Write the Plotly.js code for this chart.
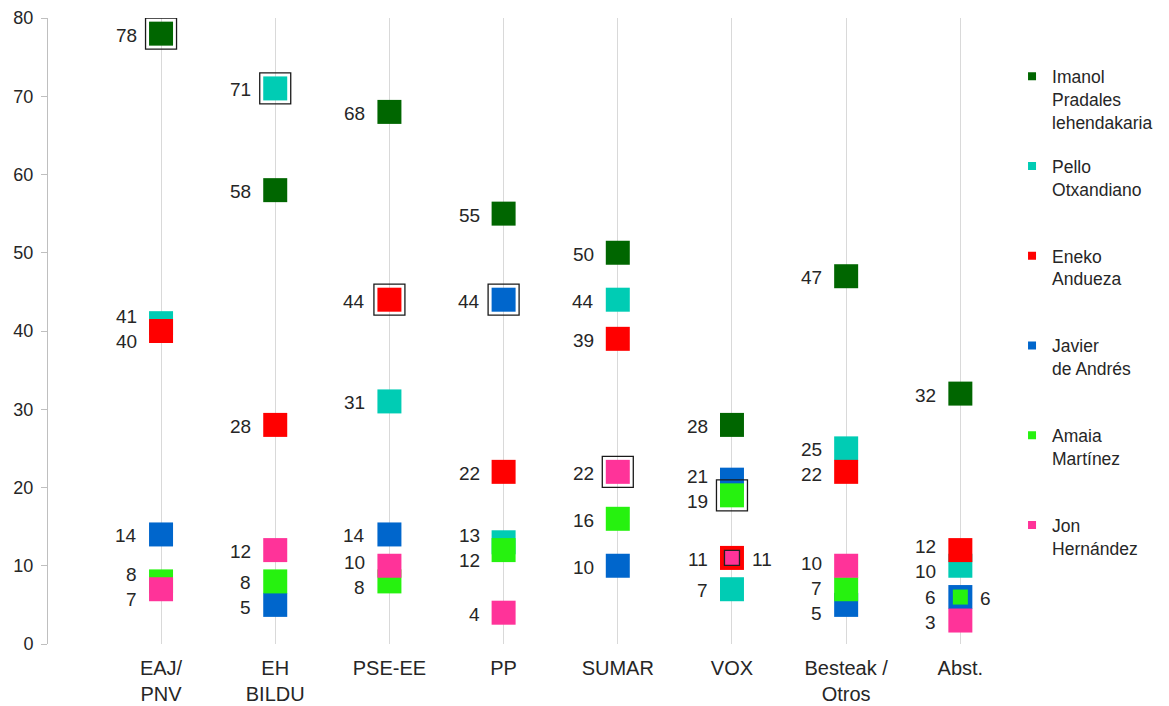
<!DOCTYPE html>
<html><head><meta charset="utf-8">
<script src="https://cdn.plot.ly/plotly-3.0.1.min.js"></script>
<style>html,body{margin:0;padding:0;background:#fff}#chart{width:1169px;height:706px}</style>
</head><body><div id="chart"></div>
<script>
// ---- data ----
const categories = ['EAJ/<br>PNV','EH<br>BILDU','PSE-EE','PP','SUMAR','VOX','Besteak /<br>Otros','Abst.'];
const seriesNames = ['Imanol<br>Pradales<br>lehendakaria','Pello<br>Otxandiano','Eneko<br>Andueza','Javier<br>de Andrés','Amaia<br>Martínez','Jon<br>Hernández'];
const imanol = [78,58,68,55,50,28,47,32];
const pello  = [41,71,31,13,44,7,25,10];
const eneko  = [40,28,44,22,39,11,22,12];
const javier = [14,5,14,44,10,21,5,6];
const amaia  = [8,8,8,12,16,19,7,6];
const jon    = [7,12,10,4,22,11,10,3];
// index of each party's own candidate in the series list (null = none)
const ownCandidate = [0,1,2,3,5,4,null,null];

// ---- styles ----
const seriesValues = [imanol,pello,eneko,javier,amaia,jon];
const colors = ['#006600','#00CCB4','#FF0000','#0066CC','#26F20F','#FF3399'];
const W=1169, H=706;
const M = {l:48, r:138, t:18, b:62};
const plotH = H - M.t - M.b;
const pxPerUnit = plotH/80;
const txtColor = '#262626';
const FONT = "'Liberation Sans', Arial, sans-serif";

const traces = [];
const annotations = [];

// markers
seriesValues.forEach((vals, s) => {
  const sizes = [], lw = [], lc = [];
  vals.forEach((v, c) => {
    let inner = false;
    for (let t = 0; t < s; t++) if (seriesValues[t][c] === v) inner = true;
    sizes.push(inner ? 15 : 24);
    lw.push(inner && s === 5 ? 1.3 : 0);
    lc.push(inner && s === 5 ? '#222' : colors[s]);
  });
  traces.push({
    type:'scatter', mode:'markers', x:categories, y:vals, showlegend:false, hoverinfo:'skip',
    marker:{symbol:'square', size:sizes, opacity:1, color:colors[s], line:{width:lw, color:lc}}
  });
});

// own-candidate boxes
const boxX = [], boxY = [];
ownCandidate.forEach((s, c) => { if (s !== null) { boxX.push(categories[c]); boxY.push(seriesValues[s][c]); } });
traces.push({type:'scatter', mode:'markers', x:boxX, y:boxY, showlegend:false, hoverinfo:'skip',
  marker:{symbol:'square-open', size:31, opacity:1, color:'#1a1a1a', line:{width:1.3}}});

// legend-only traces
seriesNames.forEach((n, s) => {
  const lines = n.split('<br>').length;
  traces.push({type:'scatter', mode:'markers', x:[categories[0]], y:[null], name: lines < 3 ? n + '<br> ' : n,
    legendgroup:'g'+s, showlegend:true, hoverinfo:'skip',
    marker:{symbol:'square', size:8, opacity:1, color:colors[s]}});
});

// value labels
categories.forEach((cat, c) => {
  const left = [], right = [];
  seriesValues.forEach((vals, s) => {
    const v = vals[c];
    let inner = false;
    for (let t = 0; t < s; t++) if (seriesValues[t][c] === v) inner = true;
    (inner ? right : left).push({v, py: v*pxPerUnit});
  });
  left.sort((a,b) => b.v - a.v);
  left.forEach(o => o.ly = o.py);
  const GAP = 25;
  for (let it = 0; it < 100; it++) {
    for (let i = 0; i < left.length-1; i++) {
      const a = left[i], b = left[i+1];
      const g = a.ly - b.ly;
      if (g < GAP) { const d = (GAP-g)/2; a.ly += d; b.ly -= d; }
    }
  }
  left.forEach(o => annotations.push({x:cat, y:o.v, xref:'x', yref:'y', text:String(o.v), showarrow:false,
    xanchor:'right', yanchor:'middle', xshift:-22, yshift:(o.ly - o.py) - 1.5, font:{family:FONT, size:19, color:txtColor}}));
  right.forEach(o => annotations.push({x:cat, y:o.v, xref:'x', yref:'y', text:String(o.v), showarrow:false,
    xanchor:'left', yanchor:'middle', xshift:18, yshift:-1.5, font:{family:FONT, size:19, color:txtColor}}));
});

const layout = {
  width:W, height:H, margin:M, paper_bgcolor:'#fff', plot_bgcolor:'#fff',
  font:{family:FONT, size:18, color:txtColor},
  showlegend:true,
  xaxis:{type:'category', categoryorder:'array', categoryarray:categories, range:[-0.99, 7.61],
    showgrid:true, gridcolor:'#d9d9d9', gridwidth:1, showline:false, ticks:'', zeroline:false,
    ticklabelstandoff:10,
    tickfont:{family:FONT, size:20, color:txtColor}, fixedrange:true},
  yaxis:{range:[0,80], dtick:10, showgrid:false, zeroline:false, showline:true, linecolor:'#bfbfbf', linewidth:1,
    ticks:'outside', ticklen:6, tickcolor:'#bfbfbf', ticklabelstandoff:4,
    tickfont:{family:FONT, size:18, color:txtColor}, fixedrange:true},
  legend:{x:0.9807, xanchor:'left', y:0.9356, yanchor:'top', valign:'top', tracegroupgap:18.5,
    font:{family:FONT, size:17.5, color:txtColor}, bgcolor:'rgba(0,0,0,0)'},
  annotations: annotations
};
Plotly.newPlot('chart', traces, layout, {displayModeBar:false, staticPlot:true});
</script></body></html>
